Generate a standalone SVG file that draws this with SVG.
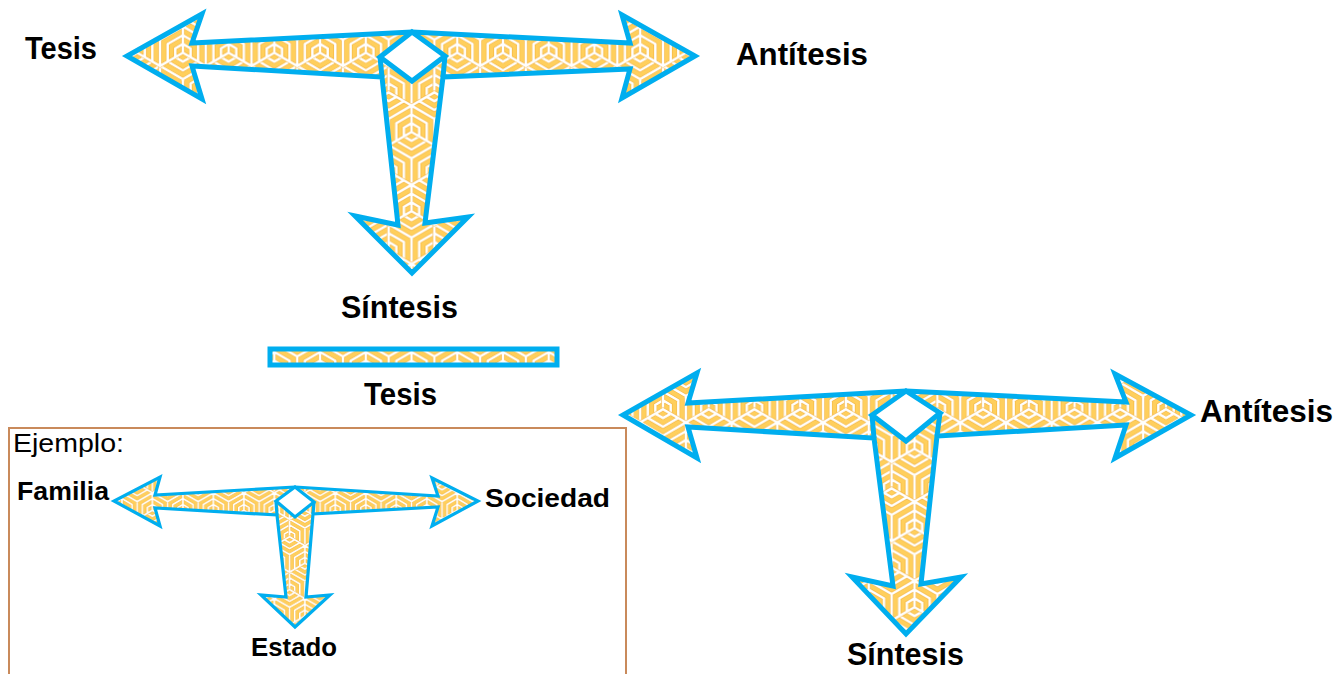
<svg xmlns="http://www.w3.org/2000/svg" xmlns:xlink="http://www.w3.org/1999/xlink" width="1338" height="674" viewBox="0 0 1338 674">
<style>
  .lbl { font-family: "Liberation Sans", Arial, sans-serif; font-weight: bold; fill: #000; }
  .big { font-size: 32px; }
  .sm { font-size: 25px; }
  .arrow { fill: url(#maze); stroke: #00AEEF; stroke-width: 5; stroke-linejoin: miter; stroke-miterlimit: 10; }
  .arrowS { fill: url(#mazeS); stroke: #00AEEF; stroke-width: 3.2; stroke-linejoin: miter; stroke-miterlimit: 10; }
  .seam { fill: none; stroke: #00AEEF; stroke-width: 5; }
  .seamS { fill: none; stroke: #00AEEF; stroke-width: 3.2; }
  .dia { fill: #fff; stroke: #00AEEF; stroke-width: 5; stroke-linejoin: miter; }
  .diaS { fill: #fff; stroke: #00AEEF; stroke-width: 3.2; stroke-linejoin: miter; }
  .mz-o { fill: none; stroke: #F2AE36; stroke-width: 2.9; stroke-linejoin: miter; }
  .mz-w { fill: none; stroke: #fff; stroke-width: 2.1; stroke-linejoin: miter; }
</style>
<defs>
  <path id="hexlines" d="M0,-22 L19.053,-11 L19.053,11 L0,22 L-19.053,11 L-19.053,-11 Z M-19.053,-11 L0,0 L19.053,-11 M0,0 L0,22 M-12.702,-14.667 L0,-7.333 L12.702,-14.667 M-6.351,-18.333 L0,-14.667 L6.351,-18.333 M19.053,-3.667 L6.351,3.667 L6.351,18.333 M19.053,3.667 L12.702,7.333 L12.702,14.667 M-6.351,18.333 L-6.351,3.667 L-19.053,-3.667 M-12.702,14.667 L-12.702,7.333 L-19.053,3.667"/>
  <g id="hexcell">
    <use xlink:href="#hexlines" class="mz-o"/>
    <use xlink:href="#hexlines" class="mz-w"/>
  </g>
  <pattern id="maze" patternUnits="userSpaceOnUse" x="0" y="0" width="38.105" height="66" patternTransform="scale(1.2)">
    <rect x="0" y="0" width="38.105" height="66" fill="#FFCF5C"/>
    <use xlink:href="#hexcell" x="0" y="0"/>
    <use xlink:href="#hexcell" x="38.105" y="0"/>
    <use xlink:href="#hexcell" x="0" y="66"/>
    <use xlink:href="#hexcell" x="38.105" y="66"/>
    <use xlink:href="#hexcell" x="19.053" y="33"/>
  </pattern>
  <pattern id="mazeS" href="#maze" xlink:href="#maze" patternTransform="scale(0.8)"/>
</defs>

<g id="connectors">
  <g id="arrow-top">
    <polygon class="arrow" points="412,32 630,43 622,15 695,56 622,98 630,69 443,77 425,223 468,217 412,273 355,216 398,225 382,77 192,66 202,99 127,56 202,14 192,43"/>
    <path class="seam" d="M380,57 L382,77 M445,56 L443,77"/>
    <polygon class="dia" points="412,32 445,56 412,81 380,57"/>
  </g>
  <g id="bar-tesis">
    <rect class="arrow" x="270" y="349" width="287" height="16"/>
  </g>
  <g id="arrow-right">
    <polygon class="arrow" points="906,391 1126,402 1115,374 1191,415 1115,458 1126,425 937,436 921,584 961,577 906,634 852,577 893,586 874,438 688,427 697,458 623,415 697,373 688,403"/>
    <path class="seam" d="M872,415 L874,438 M940,413 L937,436"/>
    <polygon class="dia" points="906,391 940,413 906,441 872,415"/>
  </g>
  <g id="arrow-example">
    <polygon class="arrowS" points="295,487 438,496 432,478 478,501 432,526 438,507 313,514 306,597 330,595 295,627 261,595 286,597 277,515 155,508 160,526 114,501 160,477 155,495"/>
    <path class="seamS" d="M276,501 L277,515 M314,502 L313,514"/>
    <polygon class="diaS" points="295,487 314,502 295,517 276,501"/>
  </g>
</g>

<g id="example-box">
  <rect x="9" y="428" width="617" height="260" fill="none" stroke="#C98A5B" stroke-width="2"/>
</g>

<g id="node-tesis-1"><text class="lbl big" x="25" y="59" textLength="72" lengthAdjust="spacingAndGlyphs">Tesis</text></g>
<g id="node-antitesis-1"><text class="lbl big" x="736" y="65" textLength="132" lengthAdjust="spacingAndGlyphs">Antítesis</text></g>
<g id="node-sintesis-1"><text class="lbl big" x="341" y="318" textLength="117" lengthAdjust="spacingAndGlyphs">Síntesis</text></g>
<g id="node-tesis-2"><text class="lbl big" x="364" y="405" textLength="73" lengthAdjust="spacingAndGlyphs">Tesis</text></g>
<g id="node-antitesis-2"><text class="lbl big" x="1200" y="422" textLength="133" lengthAdjust="spacingAndGlyphs">Antítesis</text></g>
<g id="node-sintesis-2"><text class="lbl big" x="847" y="665" textLength="117" lengthAdjust="spacingAndGlyphs">Síntesis</text></g>

<g id="node-ejemplo"><text class="lbl sm" style="font-weight:normal" x="13" y="452" textLength="111" lengthAdjust="spacingAndGlyphs">Ejemplo:</text></g>
<g id="node-familia"><text class="lbl sm" x="17" y="500" textLength="92" lengthAdjust="spacingAndGlyphs">Familia</text></g>
<g id="node-sociedad"><text class="lbl sm" x="485" y="507" textLength="125" lengthAdjust="spacingAndGlyphs">Sociedad</text></g>
<g id="node-estado"><text class="lbl sm" x="251" y="656" textLength="86" lengthAdjust="spacingAndGlyphs">Estado</text></g>
</svg>
